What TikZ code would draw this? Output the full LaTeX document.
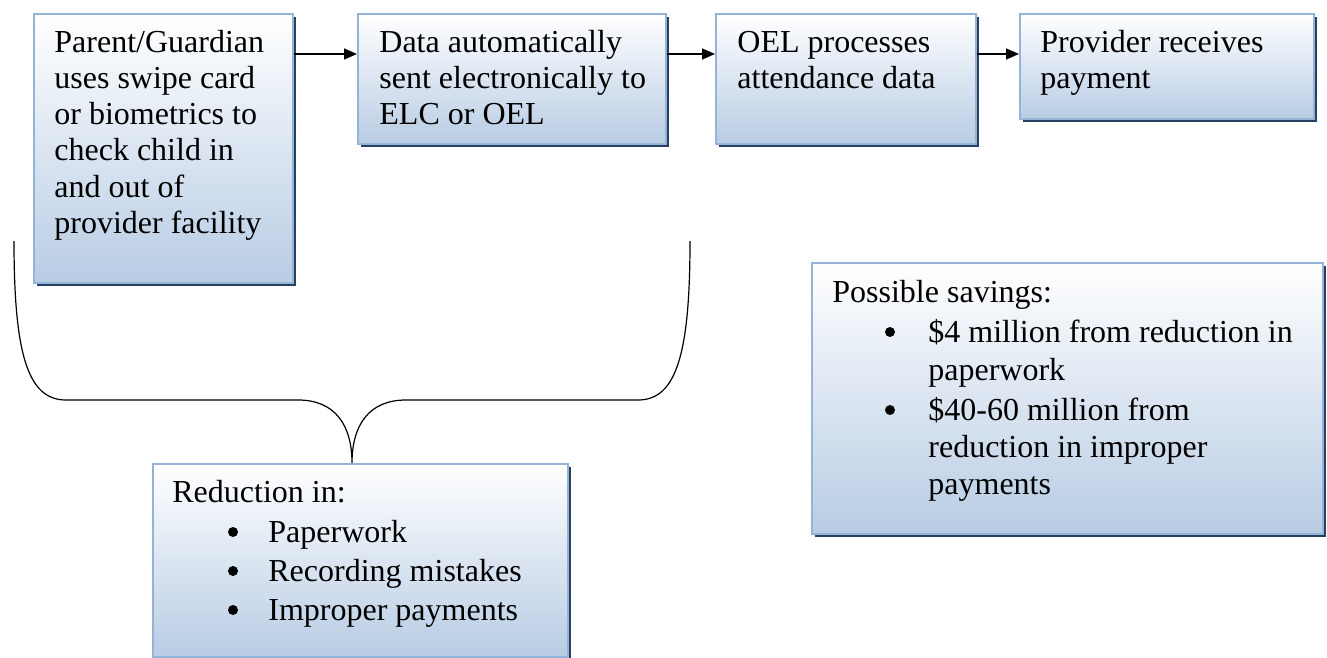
\documentclass[tikz,border=0pt]{standalone}
\usepackage{fontspec}
\setmainfont{Liberation Serif}
\usetikzlibrary{arrows.meta,shadows,calc}
\definecolor{boxblue}{RGB}{184,204,228}
\definecolor{boxborder}{RGB}{149,179,215}
\definecolor{shadowblue}{RGB}{38,64,97}
\begin{document}
\begin{tikzpicture}[x=0.5pt,y=-0.5pt,
  flowbox/.style={draw=boxborder, line width=0.8pt, top color=white, bottom color=boxblue,
    anchor=north west, inner sep=0pt,
    drop shadow={shadow xshift=1.6pt, shadow yshift=-1.6pt, fill=shadowblue, opacity=1}},
  txt/.style={anchor=base west, inner sep=0pt, font=\fontsize{16}{18}\selectfont},
  dot/.style={circle, fill=black, inner sep=0pt, minimum size=5pt},
  arr/.style={line width=0.7pt, -{Triangle[length=6.5pt,width=5.5pt]}},
  brace/.style={line width=0.6pt}]
\useasboundingbox (0,0) rectangle (1327,658);

% boxes
\node[flowbox, minimum width=129.5pt, minimum height=134.5pt] (b1) at (33,13) {};
\node[flowbox, minimum width=154pt, minimum height=65pt] (b2) at (357,13) {};
\node[flowbox, minimum width=130pt, minimum height=65pt] (b3) at (715,13) {};
\node[flowbox, minimum width=147pt, minimum height=52.5pt] (b4) at (1019,13) {};
\node[flowbox, minimum width=207.5pt, minimum height=96.5pt] (b5) at (152,463) {};
\node[flowbox, minimum width=255.5pt, minimum height=135.5pt] (b6) at (811,262) {};

% texts box 1
\foreach \t [count=\i from 0] in {Parent/Guardian, uses swipe card, or biometrics to, check child in, and out of, provider facility}
  \node[txt] (b1t\i) at (54,{53+36*\i}) {\t};
% box 2
\foreach \t [count=\i from 0] in {Data automatically, sent electronically to, ELC or OEL}
  \node[txt] (b2t\i) at (379,{53+36*\i}) {\t};
% box 3
\foreach \t [count=\i from 0] in {OEL processes, attendance data}
  \node[txt] (b3t\i) at (737,{53+36*\i}) {\t};
% box 4
\foreach \t [count=\i from 0] in {Provider receives, payment}
  \node[txt] (b4t\i) at (1040,{53+36*\i}) {\t};

% box 5
\node[txt] (b5h) at (172,502) {Reduction in:};
\foreach \t/\y [count=\i] in {Paperwork/542, Recording mistakes/581, Improper payments/620}{
  \node[dot] (b5b\i) at (233,{\y-10}) {};
  \node[txt] (b5t\i) at (268,\y) {\t};
}

% box 6
\node[txt] (b6h) at (832,302) {Possible savings:};
\node[dot] (b6b1) at (890,332) {};
\node[dot] (b6b2) at (890,410) {};
\node[txt] (b6t1) at (928,342) {\$4 million from reduction in};
\node[txt] (b6t2) at (928,380) {paperwork};
\node[txt] (b6t3) at (928,420) {\$40-60 million from};
\node[txt] (b6t4) at (928,457) {reduction in improper};
\node[txt] (b6t5) at (928,494) {payments};

% arrows
\draw[arr] ($(b1.north east)+(0,41)$) -- ($(b2.north west)+(0,41)$);
\draw[arr] ($(b2.north east)+(0,41)$) -- ($(b3.north west)+(0,41)$);
\draw[arr] ($(b3.north east)+(0,41)$) -- ($(b4.north west)+(0,41)$);

% brace
\coordinate (brL) at (14,241);
\coordinate (brR) at (690,241);
\coordinate (tip) at ($(b5.north west)+(200,0)$);
\draw[brace] (brL) .. controls (14,355) and (28,400) .. (66,400) -- (298,400)
  .. controls (335,400) and (352,425) .. (tip)
  .. controls (352,425) and (369,400) .. (406,400) -- (638,400)
  .. controls (676,400) and (690,355) .. (brR);
\end{tikzpicture}
\end{document}
